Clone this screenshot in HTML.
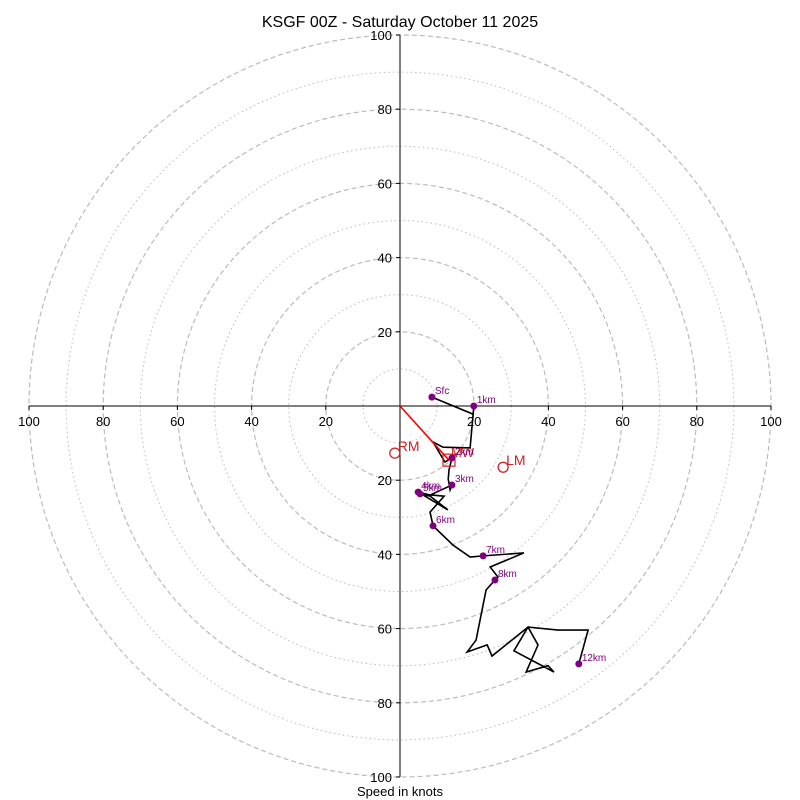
<!DOCTYPE html>
<html><head><meta charset="utf-8"><style>
body{margin:0;background:#fff;}
svg{display:block;font-family:"Liberation Sans","DejaVu Sans",sans-serif;}
</style></head><body>
<svg id="c" width="800" height="800"></svg>
<script>
const ringValues=[10,20,30,40,50,60,70,80,90,100];
const tickValues=[20,40,60,80,100];
const pathU=[8.6,19.7,19.9,18.9,11.6,8.9,12.1,14.0,13.2,13.0,13.5,14.0,8.1,4.9,12.9,8.1,5.4,11.9,8.1,8.9,14.3,18.9,22.4,33.4,24.3,26.4,25.6,23.2,20.5,18.1,23.5,24.8,34.5,37.2,34.0,39.9,41.5,30.7,34.5,42.6,50.7,48.2];
const pathV=[2.4,-2.2,0,-11.3,-11.1,-9.7,-15.1,-14.0,-17.3,-19.7,-22.6,-21.3,-24.0,-23.2,-28.0,-24.3,-23.7,-24.3,-28.6,-32.3,-37.5,-40.7,-40.4,-39.6,-43.4,-46.1,-46.9,-49.6,-63.1,-66.3,-64.4,-67.4,-59.6,-64.4,-71.7,-70.0,-71.7,-66.0,-59.6,-60.4,-60.4,-69.5];
const hLabels=["Sfc","1km","2km","3km","4km","5km","6km","7km","8km","12km"];
const hU=[8.6,19.9,14.0,14.0,4.9,5.4,8.9,22.4,25.6,48.2];
const hV=[2.4,0,-14.0,-21.3,-23.2,-23.7,-32.3,-40.4,-46.9,-69.5];
const motionLabels=["RM","LM"];
const motionU=[-1.4,27.8];
const motionV=[-12.7,-16.5];
const mwU=[13.2];
const mwV=[-14.6];
const NS="http://www.w3.org/2000/svg";
const svg=document.getElementById('c');
const cx=400,cy=406,R=371;
const sx=u=>cx+u*R/100, sy=v=>cy-v*R/100;
function mk(t,a,p){const e=document.createElementNS(NS,t);for(const k in a)e.setAttribute(k,a[k]);(p||svg).appendChild(e);return e;}
ringValues.forEach(r=>{const e=mk('circle',{cx:cx,cy:cy,r:r*R/100,fill:'none',stroke:'#bbb','stroke-width':r%20==0?1.2:1,'stroke-dasharray':r%20==0?'5,3':'1.5,3'});

});
let ax=mk('line',{x1:cx-R,y1:cy,x2:cx+R,y2:cy,stroke:'#000','stroke-width':1});


let ay=mk('line',{x1:cx,y1:cy-R,x2:cx,y2:cy+R,stroke:'#000','stroke-width':1});


tickValues.forEach(t=>{[-1,1].forEach(s=>{
 mk('line',{x1:sx(s*t),y1:cy,x2:sx(s*t),y2:cy+4,stroke:'#000'});
 let tx=mk('text',{x:sx(s*t),y:cy+20,'font-size':13,'text-anchor':'middle'});tx.textContent=t;
 
 
 mk('line',{x1:cx-4,y1:sy(s*t),x2:cx,y2:sy(s*t),stroke:'#000'});
 let ty=mk('text',{x:cx-8,y:sy(s*t)+5,'font-size':13,'text-anchor':'end'});ty.textContent=t;
 
 
});});
let pts=pathU.map((u,i)=>sx(u)+','+sy(pathV[i])).join(' ');
let pl=mk('polyline',{points:pts,fill:'none',stroke:'#000','stroke-width':1.6,'stroke-linejoin':'miter'});


let ar=mk('line',{x1:cx,y1:cy,x2:sx(mwU[0]),y2:sy(mwV[0]),stroke:'red','stroke-width':1.6});


let sq=mk('rect',{x:sx(mwU[0])-6,y:sy(mwV[0])-6,width:12,height:12,fill:'none',stroke:'#c22','stroke-width':1.2});


let mwt=mk('text',{x:sx(mwU[0])+2,y:sy(mwV[0])-3,'font-size':13,fill:'#c22'});mwt.textContent='MW';


hLabels.forEach((l,i)=>{
 let d=mk('circle',{cx:sx(hU[i]),cy:sy(hV[i]),r:3.5,fill:'purple'});
 
 
 let t=mk('text',{x:sx(hU[i])+3,y:sy(hV[i])-3,'font-size':10,fill:'purple'});t.textContent=l;
 
 
});
motionLabels.forEach((l,i)=>{
 let c=mk('circle',{cx:sx(motionU[i]),cy:sy(motionV[i]),r:5,fill:'none',stroke:'#c22','stroke-width':1.3});
 
 
 let t=mk('text',{x:sx(motionU[i])+3,y:sy(motionV[i])-2,'font-size':14,fill:'#c22'});t.textContent=l;
 
 
});
let ti=mk('text',{x:400,y:27,'font-size':16,'text-anchor':'middle'});ti.textContent='KSGF 00Z - Saturday October 11 2025';


let xl=mk('text',{x:400,y:796,'font-size':13,'text-anchor':'middle'});xl.textContent='Speed in knots';


</script>
</body></html>
